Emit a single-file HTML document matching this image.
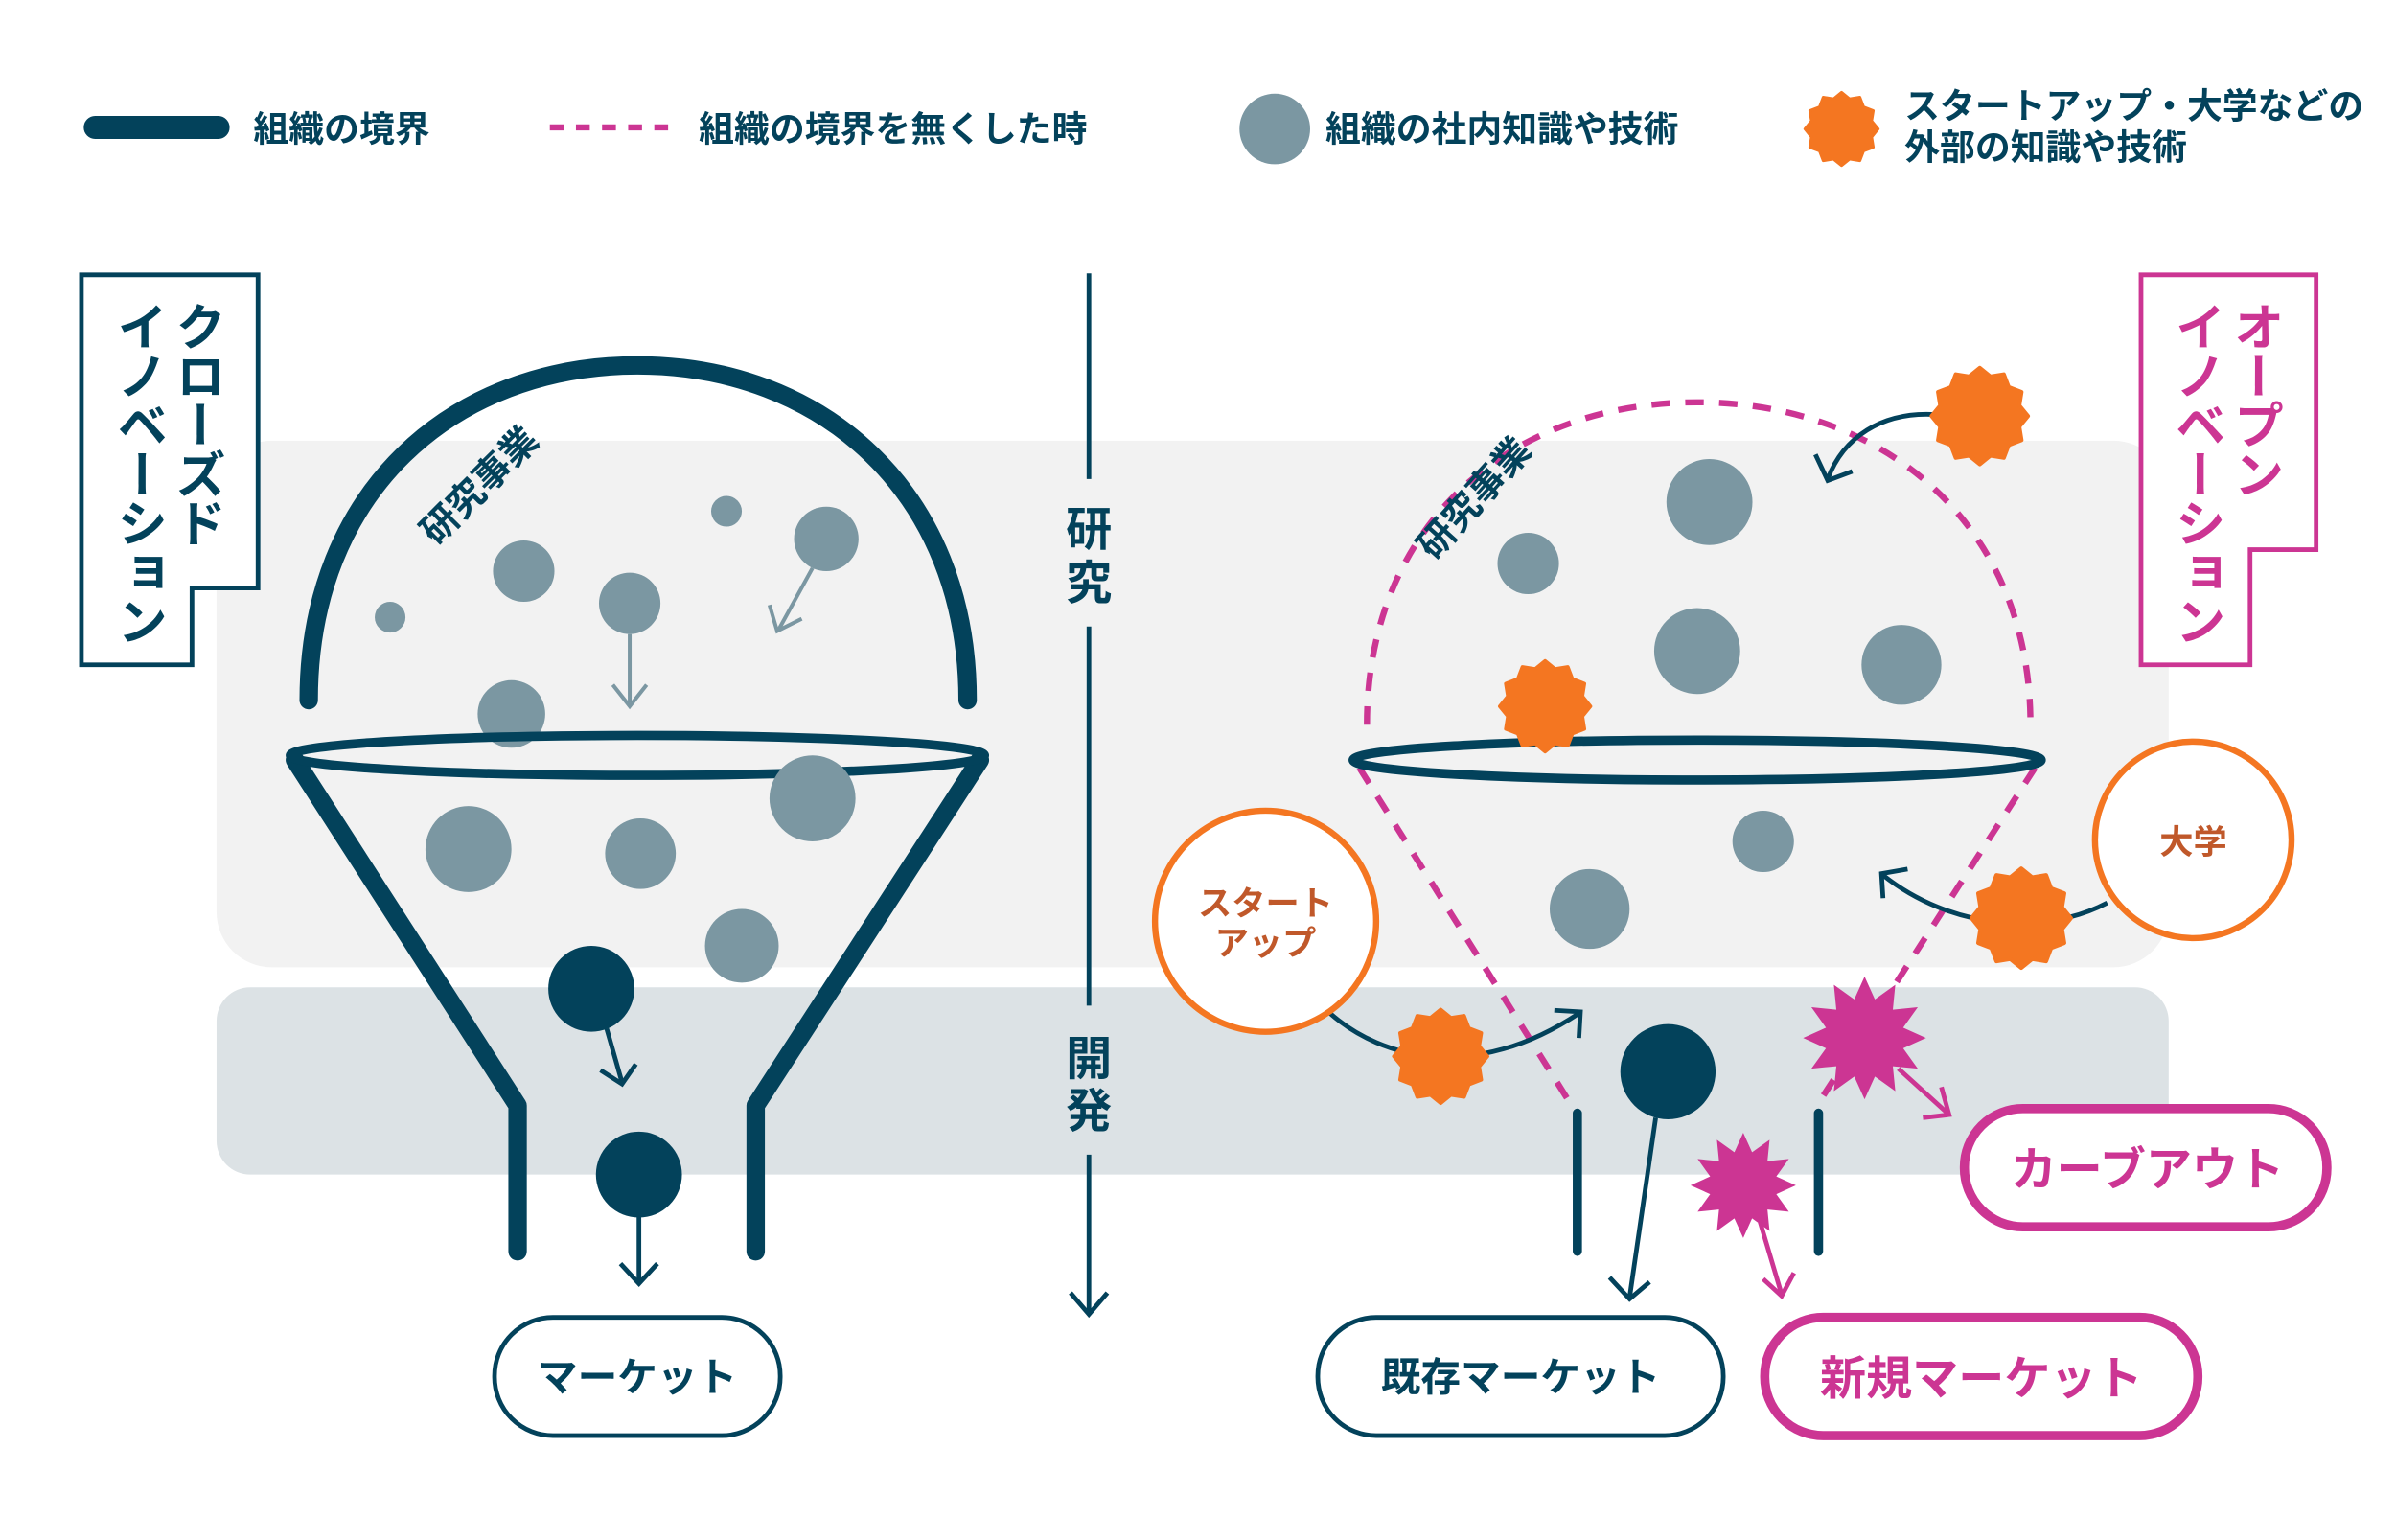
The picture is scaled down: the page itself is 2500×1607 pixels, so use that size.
<!DOCTYPE html>
<html><head><meta charset="utf-8">
<style>
html,body{margin:0;padding:0;background:#fff;}
svg{display:block;}
text{font-family:"Liberation Sans","Noto Sans CJK JP",sans-serif;font-weight:bold;}
</style></head>
<body>
<svg width="2500" height="1607" viewBox="0 0 1560 1003" preserveAspectRatio="none" xmlns="http://www.w3.org/2000/svg">
<defs>
<symbol id="ob" viewBox="-1.05 -1.05 2.1 2.1">
<polygon fill="#f47621" stroke="#f47621" stroke-width="0.08" stroke-linejoin="round" points="1,0 .821,.22 .866,.5 .601,.601 .5,.866 .22,.821 0,1 -.22,.821 -.5,.866 -.601,.601 -.866,.5 -.821,.22 -1,0 -.821,-.22 -.866,-.5 -.601,-.601 -.5,-.866 -.22,-.821 0,-1 .22,-.821 .5,-.866 .601,-.601 .866,-.5 .821,-.22"/>
</symbol>
<symbol id="pb" viewBox="-1.05 -1.05 2.1 2.1">
<polygon fill="#cc3593" points="1,0 .628,.168 .866,.5 .46,.46 .5,.866 .168,.628 0,1 -.168,.628 -.5,.866 -.46,.46 -.866,.5 -.628,.168 -1,0 -.628,-.168 -.866,-.5 -.46,-.46 -.5,-.866 -.168,-.628 0,-1 .168,-.628 .5,-.866 .46,-.46 .866,-.5 .628,-.168"/>
</symbol>
</defs>

<rect x="141" y="287" width="1271" height="343" rx="36" fill="#f2f2f2"/>
<rect x="141" y="643" width="1271" height="122" rx="22" fill="#dce2e5"/>

<line x1="62" y1="83" x2="142" y2="83" stroke="#03425b" stroke-width="15" stroke-linecap="round"/>
<text x="165" y="92" font-size="23" fill="#03425b" font-weight="normal">組織の境界</text>
<line x1="358" y1="83" x2="442" y2="83" stroke="#cc3593" stroke-width="4" stroke-dasharray="9 8"/>
<text x="455" y="92" font-size="23" fill="#03425b" font-weight="normal">組織の境界を無くした時</text>
<circle cx="830" cy="84" r="23" fill="#7b97a2"/>
<text x="863" y="92" font-size="23" fill="#03425b" font-weight="normal">組織の社内知識や技術</text>
<use href="#ob" x="1174" y="59" width="50" height="50"/>
<text x="1240" y="77" font-size="23" fill="#03425b" font-weight="normal">スタートアップ・大学などの</text>
<text x="1240" y="104" font-size="23" fill="#03425b" font-weight="normal">外部の知識や技術</text>

<line x1="709" y1="178" x2="709" y2="312" stroke="#03425b" stroke-width="3"/>
<line x1="709" y1="408" x2="709" y2="655" stroke="#03425b" stroke-width="3"/>
<line x1="709" y1="752" x2="709" y2="855" stroke="#03425b" stroke-width="3"/>
<polyline points="697,842 709,856 721,842" fill="none" stroke="#03425b" stroke-width="3"/>
<text x="709" y="355" font-size="30" fill="#03425b" text-anchor="middle">研</text>
<text x="709" y="390" font-size="30" fill="#03425b" text-anchor="middle">究</text>
<text x="709" y="700" font-size="30" fill="#03425b" text-anchor="middle">開</text>
<text x="709" y="734" font-size="30" fill="#03425b" text-anchor="middle">発</text>

<path d="M53,179 H168 V383 H125 V433 H53 Z" fill="#fff" stroke="#03425b" stroke-width="3"/>
<text x="128" y="196" font-size="33" fill="#03425b" style="writing-mode:vertical-rl" letter-spacing="-1">クローズド</text>
<text x="90" y="196" font-size="33" fill="#03425b" style="writing-mode:vertical-rl" letter-spacing="-1">イノベーション</text>

<path d="M1394,179 H1508 V358 H1465 V433 H1394 Z" fill="#fff" stroke="#cc3593" stroke-width="3"/>
<text x="1468" y="196" font-size="33" fill="#cc3593" style="writing-mode:vertical-rl" letter-spacing="-1">オープン</text>
<text x="1430" y="196" font-size="33" fill="#cc3593" style="writing-mode:vertical-rl" letter-spacing="-1">イノベーション</text>

<path d="M201,456 C201,320 295,238 415,238 C535,238 630,320 630,456" fill="none" stroke="#03425b" stroke-width="12" stroke-linecap="round"/>
<text transform="translate(318,322) rotate(-45)" font-size="24" fill="#03425b" text-anchor="middle">研究事業</text>
<circle cx="254" cy="402" r="10" fill="#7b97a2"/>
<circle cx="341" cy="372" r="20" fill="#7b97a2"/>
<circle cx="410" cy="393" r="20" fill="#7b97a2"/>
<circle cx="473" cy="333" r="10" fill="#7b97a2"/>
<circle cx="538" cy="351" r="21" fill="#7b97a2"/>
<line x1="410" y1="413" x2="410" y2="458" stroke="#7b97a2" stroke-width="2.5"/>
<polyline points="399,446 410,460 421,446" fill="none" stroke="#7b97a2" stroke-width="2.5"/>
<line x1="529" y1="370" x2="507" y2="410" stroke="#7b97a2" stroke-width="2.5"/>
<polyline points="501,394 506,411 522,403" fill="none" stroke="#7b97a2" stroke-width="2.5"/>
<circle cx="333" cy="465" r="22" fill="#7b97a2"/>
<path d="M337,815 V720 L192,495 M492,815 V720 L638,495" fill="none" stroke="#03425b" stroke-width="12" stroke-linecap="round" stroke-linejoin="round"/>
<ellipse cx="415" cy="492" rx="226" ry="13" fill="none" stroke="#03425b" stroke-width="6"/>
<circle cx="305" cy="553" r="28" fill="#7b97a2"/>
<circle cx="417" cy="556" r="23" fill="#7b97a2"/>
<circle cx="529" cy="520" r="28" fill="#7b97a2"/>
<circle cx="483" cy="616" r="24" fill="#7b97a2"/>
<circle cx="385" cy="644" r="28" fill="#03425b"/>
<line x1="395" y1="670" x2="405" y2="705" stroke="#03425b" stroke-width="3"/>
<polyline points="391,697 405,706 414,693" fill="none" stroke="#03425b" stroke-width="3"/>
<circle cx="416" cy="765" r="28" fill="#03425b"/>
<line x1="416" y1="792" x2="416" y2="835" stroke="#03425b" stroke-width="3"/>
<polyline points="404,823 416,836 428,823" fill="none" stroke="#03425b" stroke-width="3"/>
<rect x="322" y="858" width="186" height="77" rx="38" fill="#fff" stroke="#03425b" stroke-width="3"/>
<text x="415" y="906" font-size="26" fill="#03425b" text-anchor="middle">マーケット</text>

<path d="M890,472 C890,340 985,262 1105,262 C1225,262 1322,340 1322,472" fill="none" stroke="#cc3593" stroke-width="4" stroke-dasharray="12 10"/>
<path d="M885,500 L1022,718 M1325,500 L1183,720" fill="none" stroke="#cc3593" stroke-width="4" stroke-dasharray="12 10"/>
<text transform="translate(966,330) rotate(-48)" font-size="24" fill="#03425b" text-anchor="middle">研究事業</text>
<circle cx="1113" cy="327" r="28" fill="#7b97a2"/>
<circle cx="995" cy="367" r="20" fill="#7b97a2"/>
<circle cx="1105" cy="424" r="28" fill="#7b97a2"/>
<circle cx="1238" cy="433" r="26" fill="#7b97a2"/>
<ellipse cx="1105" cy="495" rx="224" ry="13" fill="none" stroke="#03425b" stroke-width="6"/>
<use href="#ob" x="975" y="429" width="62" height="62"/>
<circle cx="1148" cy="548" r="20" fill="#7b97a2"/>
<circle cx="1035" cy="592" r="26" fill="#7b97a2"/>

<path d="M1260,270 C1225,268 1200,285 1190,312" fill="none" stroke="#03425b" stroke-width="3"/>
<polyline points="1182,296 1190,313 1206,307" fill="none" stroke="#03425b" stroke-width="3"/>
<use href="#ob" x="1256" y="238" width="66" height="66"/>

<path d="M1372,588 C1330,610 1270,605 1226,570" fill="none" stroke="#03425b" stroke-width="3"/>
<polyline points="1226,585 1225,569 1242,566" fill="none" stroke="#03425b" stroke-width="3"/>
<circle cx="1428" cy="547" r="64" fill="#fff" stroke="#f47621" stroke-width="4"/>
<text x="1428" y="556" font-size="22" fill="#c0582a" text-anchor="middle">大学</text>
<use href="#ob" x="1282" y="564" width="68" height="68"/>

<path d="M866,660 C900,690 960,705 1028,660" fill="none" stroke="#03425b" stroke-width="3"/>
<polyline points="1012,658 1029,659 1028,676" fill="none" stroke="#03425b" stroke-width="3"/>
<circle cx="824" cy="600" r="72" fill="#fff" stroke="#f47621" stroke-width="4"/>
<text x="824" y="596" font-size="22" fill="#c0582a" text-anchor="middle">スタート</text>
<text x="824" y="622" font-size="22" fill="#c0582a" text-anchor="middle">アップ</text>
<use href="#ob" x="906" y="656" width="64" height="64"/>

<line x1="1027" y1="725" x2="1027" y2="815" stroke="#03425b" stroke-width="6" stroke-linecap="round"/>
<line x1="1184" y1="725" x2="1184" y2="815" stroke="#03425b" stroke-width="6" stroke-linecap="round"/>
<circle cx="1086" cy="698" r="31" fill="#03425b"/>
<line x1="1078" y1="728" x2="1061" y2="845" stroke="#03425b" stroke-width="3"/>
<polyline points="1048,832 1061,846 1074,835" fill="none" stroke="#03425b" stroke-width="3"/>

<use href="#pb" x="1172" y="634" width="84" height="84"/>
<line x1="1236" y1="696" x2="1268" y2="725" stroke="#cc3593" stroke-width="3"/>
<polyline points="1264,708 1269,726 1252,728" fill="none" stroke="#cc3593" stroke-width="3"/>
<use href="#pb" x="1099" y="736" width="72" height="72"/>
<line x1="1146" y1="796" x2="1160" y2="843" stroke="#cc3593" stroke-width="3"/>
<polyline points="1148,833 1160,844 1168,829" fill="none" stroke="#cc3593" stroke-width="3"/>

<rect x="858" y="858" width="264" height="77" rx="38" fill="#fff" stroke="#03425b" stroke-width="3"/>
<text x="990" y="906" font-size="26" fill="#03425b" text-anchor="middle">既存マーケット</text>
<rect x="1149" y="858" width="282" height="77" rx="38" fill="#fff" stroke="#cc3593" stroke-width="6"/>
<text x="1290" y="908" font-size="30" fill="#cc3593" text-anchor="middle">新規マーケット</text>
<rect x="1279" y="722" width="236" height="77" rx="38" fill="#fff" stroke="#cc3593" stroke-width="6"/>
<text x="1398" y="772" font-size="30" fill="#cc3593" text-anchor="middle">カーブアウト</text>
</svg>
</body></html>
